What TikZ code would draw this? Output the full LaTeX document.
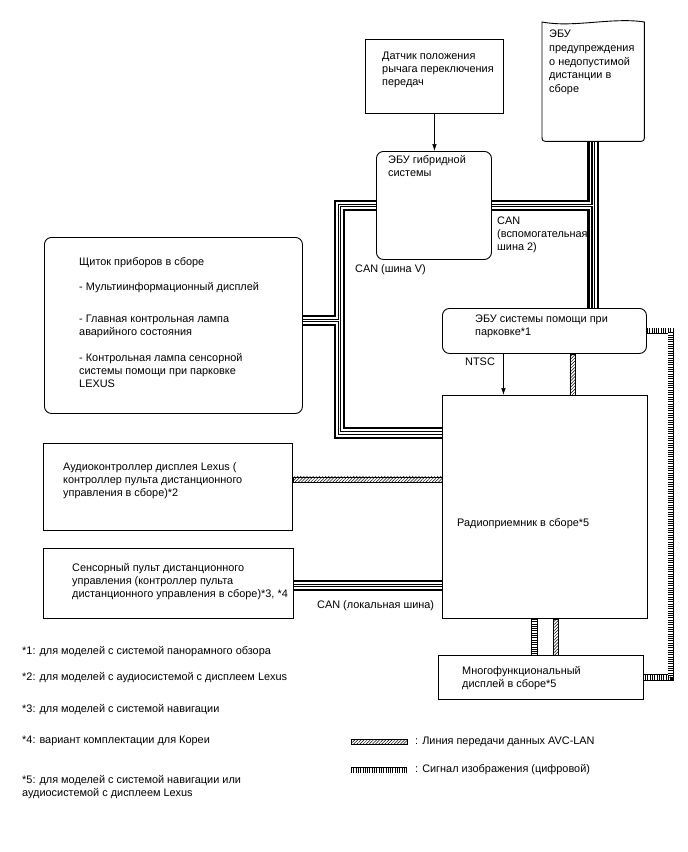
\documentclass[tikz,border=0pt]{standalone}
\usepackage{fontspec}
\setmainfont{Liberation Sans}
\usetikzlibrary{arrows.meta, calc, backgrounds, patterns.meta}

\begin{document}
\begin{tikzpicture}[
    x=1pt, y=-1pt,
    box/.style={
        draw,
        fill=white,
        line width=0.9pt,
        anchor=north west,
        inner sep=0pt
    },
    rbox/.style={box, rounded corners=7pt},
    txt/.style={
        anchor=north west,
        inner sep=0pt,
        align=left,
        font=\fontsize{10.9}{13}\selectfont
    },
    arrow/.style={-{Latex[length=7pt,width=4.5pt]}, line width=0.6pt},
    avc/.style={draw, line width=0.6pt, pattern={Lines[angle=45, distance=2.2pt, line width=0.5pt]}},
    video/.style={
        line width=6.4pt,
        postaction={draw=white, line width=5pt},
        postaction={draw=black, line width=5pt, dash pattern=on 0.8pt off 1.5pt}
    }
]
\useasboundingbox (0,0) rectangle (688,852);

% boxes
\node[box, minimum width=138pt, minimum height=74pt] (sens) at (365,39) {};
\node[anchor=north west, inner sep=0pt, minimum width=102pt, minimum height=119pt] (warn) at (542,22) {};
\draw[line width=0.9pt, fill=white] (warn.north east)
    -- ($(warn.south east)+(0,-7)$) .. controls (warn.south east) .. ($(warn.south east)+(-7,0)$)
    -- ($(warn.south west)+(7,0)$) .. controls (warn.south west) .. ($(warn.south west)+(0,-7)$)
    -- (warn.north west)
    .. controls ($(warn.north west)+(32,6)$) and ($(warn.north east)+(-32,-5)$) .. (warn.north east) -- cycle;
\node[rbox, minimum width=115pt, minimum height=108pt] (hyb) at (376,151) {};
\node[rbox, minimum width=258pt, minimum height=176pt] (clu) at (44,237) {};
\node[rbox, minimum width=204pt, minimum height=45pt] (park) at (442,308) {};
\node[box, minimum width=205pt, minimum height=223pt] (radio) at (442,395) {};
\node[box, minimum width=249pt, minimum height=87pt] (aud) at (43,443) {};
\node[box, minimum width=250pt, minimum height=70pt] (touch) at (43,548) {};
\node[box, minimum width=205pt, minimum height=44pt] (disp) at (438,655) {};

% CAN buses
\coordinate (vbus) at (339.5,433);
\coordinate (cluTee) at ($(clu.east)+(0,-5)$);
\coordinate (touchTee) at ($(touch.east)+(0,2)$);
\begin{scope}[on background layer]
\foreach \w/\c in {11.5/black, 7.4/white, 3.6/black, 1.3/white} {
    \draw[line width=\w pt, draw=\c] (hyb.west) -| (vbus) -- (vbus -| radio.west);
    \draw[line width=\w pt, draw=\c] (cluTee) -- (cluTee -| vbus);
    \draw[line width=\w pt, draw=\c] (warn.south) -- (warn.south |- park.north);
    \draw[line width=\w pt, draw=\c] (hyb.east) -- (hyb.east -| warn.south);
    \draw[line width=\w pt, draw=\c] (touchTee) -- (touchTee -| radio.west);
}
\end{scope}

% signal lines
\draw[arrow] (sens.south) -- (hyb.north -| sens.south);
\draw[arrow] ($(park.south)+(-41,0)$) -- ($(radio.north -| park.south)+(-41,0)$);
\path[avc] ($(aud.east)+(0,-10)$) rectangle ($(aud.east -| radio.west)+(0,-5)$);
\path[avc] ($(park.south)+(25.5,0)$) rectangle ($(radio.north -| park.south)+(30.5,0)$);
\path[avc] ($(radio.south)+(8.5,0)$) rectangle ($(disp.north -| radio.south)+(13.5,0)$);
\draw[video] ($(radio.south)+(-10.5,0)$) -- ($(disp.north -| radio.south)+(-10.5,0)$);
\draw[video] (park.east) -- ++(24,0) |- (disp.east);

% texts
\node[txt] (sensText) at (382,52) {Датчик положения\\рычага переключения\\передач};
\node[txt, font=\fontsize{10.9}{13.7}\selectfont] (warnText) at (549,30) {ЭБУ\\предупреждения\\о недопустимой\\дистанции в\\сборе};
\node[txt] (hybText) at (388,155) {ЭБУ гибридной\\системы};
\node[txt] (canAux) at (497,217) {CAN\\(вспомогательная\\шина 2)};
\node[txt] (canV) at (355,264) {CAN (шина V)};
\node[txt] (cluText) at (79,257) {Щиток приборов в сборе\\[12pt]- Мультиинформационный дисплей\\[19pt]- Главная контрольная лампа\\аварийного состояния\\[13pt]- Контрольная лампа сенсорной\\системы помощи при парковке\\LEXUS};
\node[txt] (parkText) at (475,315) {ЭБУ системы помощи при\\парковке*1};
\node[txt] (ntsc) at (465,358) {NTSC};
\node[txt] (radioText) at (457,518) {Радиоприемник в сборе*5};
\node[txt] (audText) at (63,462) {Аудиоконтроллер дисплея Lexus (\\контроллер пульта дистанционного\\управления в сборе)*2};
\node[txt] (touchText) at (72,563) {Сенсорный пульт дистанционного\\управления (контроллер пульта\\дистанционного управления в сборе)*3, *4};
\node[txt] (canLoc) at (317,600) {CAN (локальная шина)};
\node[txt] (dispText) at (462,666) {Многофункциональный\\дисплей в сборе*5};

% footnotes
\node[txt] (fn1) at (22,646) {*1: для моделей с системой панорамного обзора};
\node[txt] (fn2) at (22,672) {*2: для моделей с аудиосистемой с дисплеем Lexus};
\node[txt] (fn3) at (22,704) {*3: для моделей с системой навигации};
\node[txt] (fn4) at (22,736) {*4: вариант комплектации для Кореи};
\node[txt] (fn5) at (22,775) {*5: для моделей с системой навигации или\\аудиосистемой с дисплеем Lexus};

% legend
\node[txt, anchor=west] (lgAvc) at (415,742) {: Линия передачи данных AVC-LAN};
\node[txt, anchor=west] (lgVideo) at (415,770) {: Сигнал изображения (цифровой)};
\path[avc] ($(lgAvc.west)+(-64,-2.5)$) rectangle ($(lgAvc.west)+(-8,2.5)$);
\draw[video] ($(lgVideo.west)+(-64,0)$) -- ($(lgVideo.west)+(-8,0)$);
\end{tikzpicture}
\end{document}
